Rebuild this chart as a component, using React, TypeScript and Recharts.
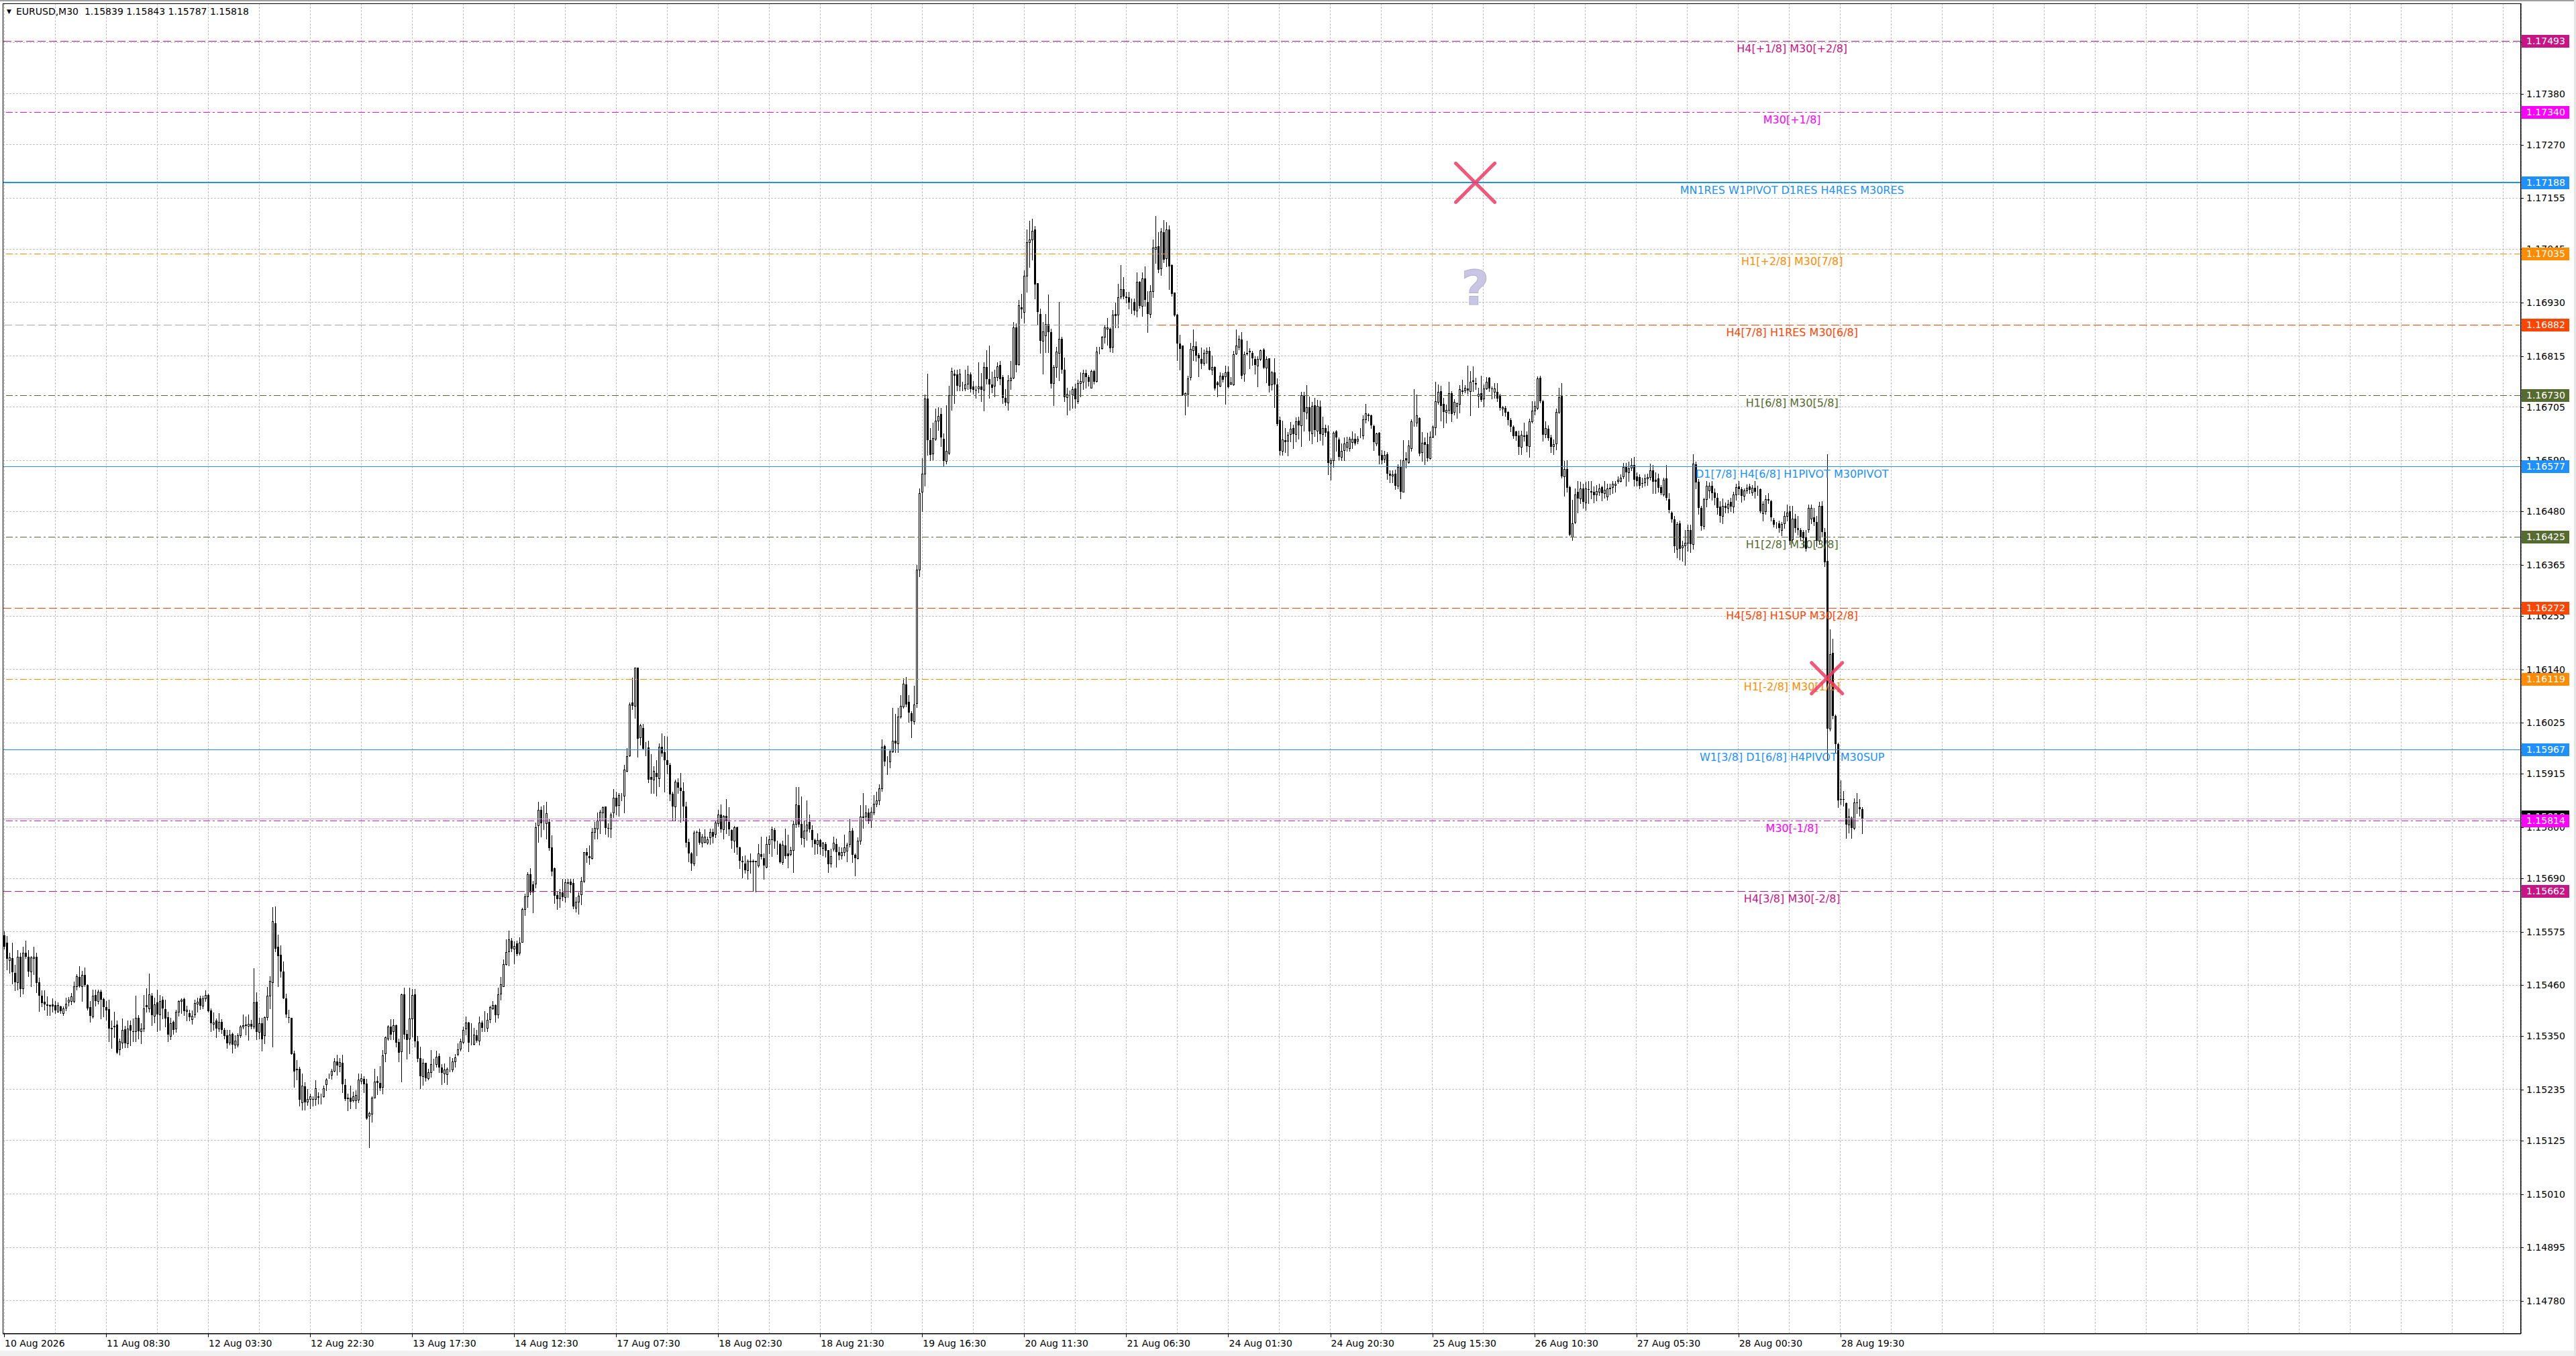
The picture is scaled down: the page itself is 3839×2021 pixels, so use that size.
import React from 'react';
import {
  ComposedChart,
  Bar,
  XAxis,
  YAxis,
  CartesianGrid,
  ReferenceLine,
  ReferenceDot,
} from 'recharts';

// candle values are in points above BASE (1 point = 0.00001), each row is [open, high, low, close]
const BASE = 1.14;

const aug10 = [
  [1567,1576,1539,1542],[1551,1566,1494,1516],[1513,1530,1486,1519],[1518,1551,1463,1487],[1486,1503,1448,1466],[1466,1536,1450,1521],[1521,1530,1435,1451],[1453,1542,1441,1530],
  [1530,1555,1518,1521],[1521,1535,1479,1489],[1489,1522,1458,1519],[1518,1543,1484,1521],[1521,1530,1445,1464],[1466,1476,1404,1437],[1437,1449,1414,1421],[1424,1449,1407,1419],
  [1419,1436,1395,1416],[1416,1419,1395,1417],[1418,1431,1402,1414],[1417,1425,1399,1406],[1403,1423,1402,1417],
];
const aug11 = [
  [1414,1416,1399,1404],[1399,1414,1395,1409],[1411,1433,1406,1420],[1424,1434,1415,1428],[1426,1443,1419,1436],[1426,1468,1422,1458],[1458,1484,1450,1479],[1477,1500,1456,1457],
  [1458,1491,1425,1482],[1482,1498,1457,1460],[1460,1462,1407,1410],[1413,1426,1381,1394],[1392,1450,1390,1437],[1438,1450,1415,1426],[1426,1450,1420,1446],[1446,1450,1388,1428],
  [1430,1433,1392,1413],[1413,1426,1385,1406],[1408,1429,1339,1367],[1367,1383,1325,1368],[1372,1402,1348,1369],[1375,1383,1313,1314],[1321,1344,1310,1339],[1336,1388,1324,1364],
  [1365,1372,1326,1334],[1334,1383,1326,1366],[1373,1384,1330,1362],[1361,1388,1339,1360],[1360,1437,1339,1389],[1389,1395,1344,1361],[1360,1378,1335,1366],[1367,1439,1360,1409],
  [1417,1453,1402,1413],[1409,1485,1403,1440],[1437,1443,1373,1395],[1394,1433,1380,1419],[1423,1450,1360,1397],[1396,1438,1363,1425],[1428,1436,1388,1409],[1408,1428,1371,1388],
  [1391,1403,1339,1353],[1350,1389,1343,1378],[1381,1383,1355,1364],[1366,1407,1359,1402],[1402,1427,1394,1425],[1425,1431,1400,1428],[1430,1433,1395,1404],[1404,1415,1383,1407],
];
const aug12 = [
  [1400,1407,1384,1391],[1386,1406,1376,1394],[1396,1428,1391,1421],[1420,1433,1402,1424],[1432,1437,1408,1415],[1415,1437,1409,1432],[1432,1448,1426,1438],[1438,1441,1402,1404],
  [1406,1410,1361,1378],[1377,1401,1363,1380],[1383,1388,1347,1366],[1366,1400,1361,1381],[1381,1387,1356,1364],[1364,1368,1344,1351],[1352,1364,1324,1334],[1336,1364,1332,1354],
  [1355,1357,1315,1331],[1332,1352,1324,1341],[1331,1356,1327,1352],[1352,1373,1347,1371],[1370,1396,1366,1373],[1374,1392,1354,1375],[1372,1397,1342,1377],[1377,1385,1367,1370],
  [1370,1496,1366,1423],[1424,1445,1343,1359],[1359,1390,1344,1378],[1378,1390,1319,1343],[1352,1392,1335,1391],[1391,1456,1385,1437],[1437,1479,1409,1469],[1466,1628,1327,1597],
  [1593,1630,1532,1538],[1542,1568,1457,1523],[1525,1545,1477,1489],[1489,1511,1431,1432],[1431,1441,1391,1397],[1391,1407,1379,1390],[1389,1390,1311,1312],[1313,1318,1241,1274],
  [1280,1298,1257,1277],[1279,1284,1200,1213],[1208,1270,1192,1243],[1242,1250,1192,1208],[1209,1236,1202,1214],[1214,1226,1195,1221],[1215,1221,1200,1214],[1214,1255,1202,1238],
];
const aug13 = [
  [1219,1229,1205,1221],[1220,1226,1205,1220],[1221,1243,1219,1238],[1246,1260,1233,1256],[1266,1270,1260,1266],[1266,1279,1258,1275],[1275,1303,1274,1295],[1295,1310,1267,1287],
  [1285,1303,1274,1294],[1292,1310,1229,1246],[1245,1258,1212,1214],[1216,1226,1190,1217],[1218,1243,1195,1209],[1211,1230,1209,1220],[1212,1234,1195,1223],[1213,1270,1207,1256],
  [1253,1270,1248,1259],[1258,1264,1229,1247],[1248,1258,1171,1173],[1178,1187,1111,1184],[1183,1220,1165,1217],[1217,1279,1217,1252],[1253,1264,1224,1249],[1249,1285,1233,1238],
  [1240,1320,1226,1308],[1313,1349,1295,1347],[1344,1374,1342,1370],[1371,1387,1343,1354],[1360,1387,1343,1374],[1373,1375,1328,1336],[1337,1344,1296,1315],[1317,1442,1252,1440],
  [1440,1455,1344,1354],[1355,1363,1302,1342],[1344,1455,1313,1388],[1388,1452,1349,1439],[1440,1452,1328,1339],[1339,1351,1296,1301],[1303,1328,1237,1264],[1264,1301,1245,1292],
  [1292,1293,1253,1259],[1259,1279,1257,1273],[1273,1320,1262,1290],[1290,1301,1277,1290],[1290,1319,1284,1306],[1307,1313,1272,1282],[1283,1290,1247,1271],[1269,1291,1250,1278],
];
const aug14 = [
  [1268,1282,1246,1279],[1279,1306,1274,1279],[1278,1303,1274,1295],[1296,1312,1284,1304],[1311,1335,1308,1322],[1323,1344,1318,1339],[1337,1371,1335,1364],[1367,1392,1354,1380],
  [1380,1381,1317,1336],[1335,1378,1332,1335],[1333,1368,1331,1354],[1352,1363,1337,1341],[1341,1392,1332,1380],[1380,1383,1361,1368],[1368,1404,1361,1368],[1368,1400,1361,1385],
  [1386,1416,1380,1413],[1410,1425,1408,1417],[1417,1419,1381,1395],[1396,1455,1390,1440],[1442,1477,1428,1461],[1458,1515,1457,1505],[1505,1559,1503,1531],[1533,1577,1502,1559],
  [1555,1561,1533,1538],[1538,1554,1506,1544],[1550,1556,1524,1527],[1529,1563,1525,1552],[1553,1626,1553,1624],[1624,1657,1611,1651],[1651,1703,1628,1698],[1698,1712,1655,1660],
  [1677,1684,1616,1660],[1678,1810,1670,1800],[1804,1855,1768,1837],[1837,1845,1780,1809],[1810,1847,1795,1810],[1808,1855,1775,1830],[1812,1818,1751,1755],[1756,1783,1696,1705],
  [1712,1713,1636,1652],[1654,1661,1624,1645],[1646,1667,1628,1660],[1659,1689,1643,1649],[1650,1689,1640,1681],[1681,1689,1650,1678],[1683,1689,1660,1675],[1680,1689,1625,1630],
];
const aug17 = [
  [1626,1650,1618,1640],[1640,1660,1613,1653],[1655,1693,1633,1684],[1684,1747,1682,1746],[1747,1755,1725,1739],[1738,1761,1720,1734],[1734,1799,1732,1790],[1790,1811,1775,1798],
  [1797,1832,1775,1814],[1814,1838,1787,1833],[1832,1845,1814,1843],[1844,1845,1785,1799],[1799,1809,1780,1798],[1797,1831,1778,1828],[1831,1882,1821,1864],[1864,1876,1828,1845],
  [1848,1874,1824,1869],[1868,1874,1857,1868],[1868,1934,1831,1924],[1921,1970,1920,1953],[1955,2068,1953,2065],[2068,2122,2054,2061],[2061,2144,2035,2144],[2144,2144,1951,1990],
  [1993,2023,1978,2020],[2014,2023,1968,1969],[1972,1984,1954,1972],[1972,1986,1897,1903],[1908,1957,1873,1903],[1903,1932,1874,1921],[1917,1944,1868,1908],[1906,1980,1888,1973],
  [1973,2002,1953,1959],[1962,1996,1876,1944],[1944,1995,1915,1934],[1934,1939,1857,1870],[1872,1877,1815,1844],[1845,1902,1814,1898],[1897,1905,1873,1885],[1885,1917,1811,1878],
  [1878,1897,1814,1845],[1844,1855,1758,1767],[1768,1775,1726,1743],[1743,1746,1707,1722],[1722,1792,1717,1788],[1789,1792,1739,1788],[1790,1797,1763,1767],[1767,1785,1758,1780],
];
const aug18 = [
  [1768,1796,1766,1780],[1767,1780,1763,1774],[1778,1797,1763,1790],[1790,1797,1766,1780],[1785,1814,1778,1810],[1809,1838,1803,1828],[1828,1849,1790,1796],[1796,1826,1775,1824],
  [1824,1860,1787,1813],[1811,1843,1783,1795],[1794,1796,1755,1771],[1771,1803,1746,1800],[1800,1802,1742,1756],[1757,1758,1712,1727],[1727,1737,1691,1725],[1722,1739,1702,1708],
  [1708,1730,1689,1728],[1728,1743,1701,1725],[1727,1730,1662,1725],[1728,1728,1661,1725],[1717,1763,1715,1743],[1742,1779,1732,1736],[1734,1744,1689,1717],[1715,1779,1713,1763],
  [1763,1782,1744,1774],[1774,1802,1737,1795],[1794,1799,1755,1770],[1763,1771,1742,1763],[1763,1766,1723,1725],[1725,1771,1721,1762],[1761,1797,1734,1737],[1744,1784,1713,1738],
  [1742,1758,1739,1750],[1750,1814,1703,1807],[1807,1886,1800,1849],[1848,1886,1802,1805],[1807,1867,1763,1776],[1776,1814,1758,1792],[1792,1857,1773,1805],[1811,1828,1790,1795],
  [1794,1804,1758,1773],[1772,1775,1742,1763],[1763,1787,1743,1772],[1773,1775,1742,1758],[1755,1768,1739,1766],[1763,1768,1736,1749],[1750,1751,1703,1721],[1722,1754,1715,1737],
];
const aug19 = [
  [1754,1780,1749,1766],[1763,1775,1715,1747],[1747,1758,1730,1739],[1739,1756,1732,1746],[1746,1784,1739,1757],[1749,1767,1726,1762],[1763,1818,1758,1791],[1792,1799,1725,1741],
  [1740,1744,1696,1734],[1734,1778,1732,1771],[1771,1847,1763,1823],[1821,1874,1799,1823],[1823,1848,1814,1832],[1831,1840,1809,1813],[1814,1843,1800,1833],[1832,1869,1827,1851],
  [1851,1877,1845,1858],[1857,1892,1849,1884],[1884,1989,1878,1973],[1974,1978,1933,1941],[1944,1953,1914,1944],[1942,1968,1929,1963],[1963,2057,1961,1986],[1986,2044,1961,1980],
  [1980,2057,1961,2038],[2038,2085,2035,2061],[2060,2120,2057,2109],[2108,2123,2060,2064],[2070,2084,2026,2047],[2046,2050,1994,2028],[2028,2105,2022,2064],[2067,2365,2058,2355],
  [2355,2530,2340,2520],[2522,2595,2480,2562],[2562,2732,2535,2723],[2723,2776,2602,2633],[2633,2659,2591,2602],[2605,2671,2592,2638],[2637,2701,2634,2675],[2675,2705,2656,2686],
  [2690,2703,2621,2640],[2637,2648,2579,2589],[2589,2709,2583,2610],[2606,2751,2604,2730],[2730,2789,2698,2782],[2776,2785,2713,2772],[2775,2785,2740,2750],[2750,2787,2741,2776],
];
const aug20 = [
  [2750,2759,2740,2750],[2745,2785,2740,2753],[2755,2794,2743,2775],[2775,2779,2737,2743],[2749,2761,2733,2742],[2742,2751,2724,2741],[2745,2801,2736,2749],[2749,2778,2718,2742],
  [2742,2801,2697,2791],[2791,2827,2755,2765],[2765,2837,2724,2753],[2753,2781,2736,2747],[2751,2785,2728,2769],[2769,2801,2762,2793],[2795,2804,2753,2765],[2770,2774,2713,2724],
  [2724,2743,2709,2714],[2714,2774,2698,2762],[2762,2804,2743,2768],[2768,2888,2766,2877],[2876,2885,2781,2795],[2797,2936,2795,2924],[2920,2949,2896,2915],[2909,2999,2886,2988],
  [2988,3087,2953,3060],[3060,3106,3007,3066],[3066,3110,3022,3085],[3087,3095,2938,2969],[2972,2972,2883,2909],[2906,2917,2822,2847],[2847,2888,2776,2868],[2859,2906,2823,2883],
  [2883,2947,2823,2867],[2867,2873,2747,2755],[2756,2795,2709,2791],[2791,2835,2770,2825],[2821,2932,2762,2852],[2852,2856,2778,2785],[2785,2812,2718,2726],[2726,2747,2688,2734],
  [2732,2740,2698,2732],[2732,2749,2703,2743],[2745,2755,2703,2722],[2718,2764,2713,2756],[2756,2779,2728,2761],[2760,2785,2743,2778],[2778,2785,2747,2770],[2770,2774,2751,2759],
];
const aug21 = [
  [2747,2785,2747,2782],[2782,2785,2755,2759],[2761,2835,2759,2824],[2824,2835,2820,2824],[2831,2858,2830,2856],[2856,2881,2843,2876],[2873,2896,2839,2877],[2873,2877,2824,2831],
  [2835,2914,2823,2904],[2906,2930,2877,2901],[2904,2970,2877,2942],[2943,3011,2938,2959],[2959,2985,2938,2943],[2943,2953,2930,2940],[2942,2953,2917,2930],[2931,2938,2907,2931],
  [2932,2938,2904,2913],[2913,2995,2900,2974],[2974,2976,2919,2923],[2923,2995,2901,2982],[2982,3008,2923,2936],[2932,2955,2866,2905],[2905,2967,2898,2955],[2955,3066,2942,3049],
  [3046,3117,3015,3050],[3051,3082,2995,3001],[3003,3090,2989,3083],[3082,3107,3017,3022],[3025,3104,3008,3087],[3087,3096,2959,3008],[3011,3012,2944,2949],[2951,2952,2901,2903],
  [2904,2906,2806,2842],[2842,2860,2786,2830],[2838,2838,2730,2731],[2730,2736,2688,2735],[2733,2773,2708,2766],[2770,2843,2764,2830],[2828,2872,2805,2836],[2836,2846,2804,2816],
  [2817,2822,2771,2810],[2808,2833,2788,2799],[2800,2829,2795,2822],[2822,2833,2800,2826],[2826,2834,2785,2786],[2786,2816,2775,2791],[2791,2793,2742,2745],[2758,2761,2728,2752],
];
const aug24 = [
  [2751,2780,2749,2773],[2772,2778,2759,2763],[2771,2794,2711,2779],[2781,2793,2747,2748],[2755,2769,2753,2758],[2753,2826,2752,2819],[2820,2872,2818,2837],[2835,2859,2829,2852],
  [2851,2866,2766,2773],[2776,2824,2761,2819],[2822,2848,2817,2819],[2826,2831,2788,2823],[2821,2826,2795,2810],[2809,2814,2776,2796],[2794,2815,2749,2809],[2809,2829,2805,2827],
  [2829,2832,2788,2789],[2789,2814,2758,2809],[2810,2810,2738,2750],[2753,2783,2742,2779],[2779,2810,2705,2754],[2754,2767,2665,2668],[2677,2684,2602,2610],[2610,2675,2602,2635],
  [2634,2660,2607,2629],[2632,2651,2600,2645],[2646,2673,2631,2658],[2659,2667,2616,2646],[2646,2683,2631,2674],[2675,2684,2636,2665],[2666,2738,2621,2731],[2730,2738,2654,2694],
  [2693,2752,2680,2705],[2705,2728,2634,2653],[2648,2716,2626,2708],[2709,2724,2643,2655],[2654,2721,2631,2707],[2706,2719,2634,2647],[2647,2684,2623,2659],[2660,2667,2643,2650],
  [2653,2666,2560,2584],[2584,2595,2549,2590],[2590,2653,2576,2650],[2652,2655,2610,2639],[2635,2639,2592,2597],[2597,2626,2590,2611],[2612,2639,2590,2627],[2619,2641,2611,2629],
];
const aug25 = [
  [2617,2641,2611,2636],[2629,2653,2617,2636],[2637,2648,2624,2627],[2632,2643,2627,2637],[2644,2660,2640,2644],[2644,2687,2637,2678],[2678,2711,2671,2692],[2689,2692,2675,2685],
  [2687,2689,2660,2665],[2664,2667,2612,2629],[2627,2650,2622,2648],[2650,2651,2583,2600],[2602,2612,2583,2590],[2593,2610,2586,2602],[2603,2607,2550,2561],[2561,2568,2542,2557],
  [2557,2568,2542,2560],[2561,2570,2528,2536],[2536,2582,2529,2576],[2576,2592,2508,2523],[2523,2634,2522,2590],[2594,2607,2575,2591],[2586,2634,2585,2622],[2617,2679,2611,2674],
  [2672,2744,2664,2673],[2671,2732,2664,2687],[2682,2683,2600,2605],[2607,2651,2589,2628],[2629,2639,2581,2623],[2625,2650,2589,2595],[2594,2653,2593,2641],[2641,2666,2640,2662],
  [2661,2759,2645,2717],[2716,2753,2712,2737],[2739,2751,2676,2708],[2711,2724,2661,2694],[2695,2710,2671,2698],[2699,2759,2691,2735],[2735,2739,2674,2690],[2695,2722,2688,2716],
  [2708,2715,2682,2713],[2712,2752,2693,2743],[2739,2763,2734,2740],[2741,2752,2736,2746],[2745,2794,2734,2740],[2739,2783,2687,2760],[2762,2792,2739,2759],[2757,2768,2744,2753],
];
const aug26 = [
  [2729,2746,2705,2733],[2735,2772,2717,2720],[2723,2753,2706,2745],[2745,2770,2743,2760],[2768,2770,2739,2745],[2745,2749,2723,2743],[2737,2756,2724,2745],[2738,2756,2718,2723],
  [2730,2734,2699,2703],[2702,2707,2687,2704],[2703,2707,2686,2693],[2695,2696,2667,2677],[2677,2681,2653,2663],[2663,2666,2638,2642],[2652,2654,2633,2642],[2644,2654,2604,2619],
  [2619,2654,2604,2645],[2644,2671,2632,2641],[2645,2653,2609,2620],[2620,2680,2598,2674],[2674,2718,2671,2697],[2697,2718,2688,2708],[2703,2771,2700,2767],[2768,2773,2715,2717],
  [2717,2720,2632,2645],[2646,2674,2640,2659],[2658,2666,2633,2638],[2639,2645,2608,2619],[2620,2635,2603,2625],[2627,2701,2613,2694],[2695,2747,2691,2726],[2729,2756,2553,2556],
  [2556,2589,2513,2572],[2572,2590,2522,2531],[2533,2536,2428,2430],[2425,2505,2418,2455],[2457,2529,2455,2516],[2522,2545,2478,2508],[2508,2544,2498,2529],[2529,2539,2488,2500],
  [2499,2544,2483,2529],[2528,2546,2498,2526],[2523,2546,2508,2524],[2523,2534,2499,2515],[2517,2537,2503,2524],[2523,2539,2515,2529],[2532,2536,2504,2520],[2520,2546,2510,2527],
];
const aug27 = [
  [2512,2539,2505,2529],[2529,2539,2517,2531],[2532,2545,2520,2539],[2537,2546,2522,2539],[2545,2556,2541,2548],[2546,2560,2544,2553],[2556,2584,2551,2576],[2576,2585,2536,2565],
  [2565,2588,2546,2573],[2575,2594,2568,2580],[2580,2597,2536,2548],[2556,2565,2536,2545],[2554,2560,2530,2536],[2541,2553,2533,2540],[2542,2560,2536,2552],[2551,2562,2537,2554],
  [2554,2583,2548,2569],[2569,2580,2519,2544],[2548,2565,2520,2544],[2551,2562,2523,2531],[2532,2537,2516,2519],[2516,2553,2513,2549],[2552,2580,2505,2509],[2507,2520,2478,2484],
  [2478,2481,2458,2463],[2463,2470,2393,2405],[2400,2457,2381,2453],[2454,2460,2377,2400],[2402,2417,2373,2407],[2407,2440,2365,2412],[2412,2452,2395,2440],[2440,2452,2393,2410],
  [2410,2603,2400,2583],[2581,2588,2530,2542],[2544,2550,2475,2487],[2488,2492,2440,2449],[2449,2510,2443,2507],[2507,2545,2490,2536],[2525,2543,2510,2536],[2536,2545,2505,2519],
  [2521,2530,2495,2509],[2510,2520,2475,2487],[2490,2502,2458,2470],[2470,2508,2455,2492],[2492,2499,2478,2487],[2487,2505,2478,2496],[2500,2510,2480,2490],[2490,2522,2478,2516],
];
const aug28 = [
  [2516,2540,2505,2532],[2534,2545,2516,2528],[2528,2533,2500,2513],[2513,2530,2505,2525],[2525,2538,2520,2531],[2534,2540,2520,2527],[2521,2537,2515,2531],[2531,2545,2510,2522],
  [2527,2536,2515,2527],[2528,2530,2478,2480],[2476,2502,2460,2496],[2481,2515,2475,2506],[2507,2520,2498,2504],[2502,2505,2460,2467],[2461,2466,2447,2452],[2452,2458,2445,2452],
  [2455,2460,2435,2444],[2440,2458,2428,2453],[2455,2480,2445,2471],[2471,2495,2460,2478],[2480,2492,2410,2417],[2420,2492,2412,2464],[2464,2475,2435,2445],[2441,2470,2430,2445],
  [2440,2445,2418,2426],[2435,2440,2405,2423],[2424,2440,2395,2400],[2442,2495,2435,2487],[2464,2495,2455,2488],[2467,2488,2450,2458],[2458,2470,2405,2417],[2417,2500,2410,2492],
  [2492,2502,2425,2436],[2436,2445,2362,2370],[2374,2603,1944,2012],[2012,2226,2008,2173],[2176,2206,2034,2039],[2039,2043,1962,1979],[1979,1982,1843,1857],[1861,1901,1849,1860],
  [1861,1878,1846,1859],[1852,1854,1776,1805],[1805,1840,1788,1823],[1820,1823,1776,1799],[1799,1862,1796,1854],[1854,1874,1830,1852],[1843,1861,1824,1839],[1839,1843,1787,1818],
];

const sessions = [aug10, aug11, aug12, aug13, aug14, aug17, aug18, aug19, aug20, aug21, aug24, aug25, aug26, aug27, aug28];

// one label every 38 bars, starting at the first bar
const timeLabels = [
  '10 Aug 2026', '11 Aug 08:30', '12 Aug 03:30', '12 Aug 22:30', '13 Aug 17:30', '14 Aug 12:30',
  '17 Aug 07:30', '18 Aug 02:30', '18 Aug 21:30', '19 Aug 16:30', '20 Aug 11:30', '21 Aug 06:30',
  '24 Aug 01:30', '24 Aug 20:30', '25 Aug 15:30', '26 Aug 10:30', '27 Aug 05:30', '28 Aug 00:30', '28 Aug 19:30',
];

const priceTicks = [
  1.1749, 1.1738, 1.1727, 1.17155, 1.17045, 1.1693, 1.16815, 1.16705, 1.1659, 1.1648, 1.16365, 1.16255,
  1.1614, 1.16025, 1.15915, 1.158, 1.1569, 1.15575, 1.1546, 1.1535, 1.15235, 1.15125, 1.1501, 1.14895, 1.1478,
];

const levelPrices = [1.17493, 1.1734, 1.17188, 1.17035, 1.16882, 1.1673, 1.16577, 1.16425, 1.16272, 1.16119, 1.15967, 1.15814, 1.15662];
const levelNames = [
  'H4[+1/8] M30[+2/8]',
  'M30[+1/8]',
  'MN1RES W1PIVOT D1RES H4RES M30RES',
  'H1[+2/8] M30[7/8]',
  'H4[7/8] H1RES M30[6/8]',
  'H1[6/8] M30[5/8]',
  'D1[7/8] H4[6/8] H1PIVOT M30PIVOT',
  'H1[2/8] M30[3/8]',
  'H4[5/8] H1SUP M30[2/8]',
  'H1[-2/8] M30[1/8]',
  'W1[3/8] D1[6/8] H4PIVOT M30SUP',
  'M30[-1/8]',
  'H4[3/8] M30[-2/8]',
];
const levelKinds = ['dash', 'dashdot', 'solid', 'dashdot', 'dash', 'dashdot', 'solid', 'dashdot', 'dash', 'dashdot', 'solid', 'dashdot', 'dash'];
// bar index where the coloured part of a level line starts (grey before it)
const levelStart = [0, 0, 0, 0, 430, 0, 0, 0, 0, 0, 0, 0, 0];

const bidPrice = 1.15818;
const quote = 'EURUSD,M30  1.15839 1.15843 1.15787 1.15818';

const crossBars = [548, 679];
const crossPrices = [1.17188, 1.16121];
const questionBar = 548;
const questionPrice = 1.16963;
const levelTextBar = 666;

// ---------- layout / style ----------
const WIDTH = 3839;
const HEIGHT = 2021;
const AXIS_RIGHT = 82;
const AXIS_BOTTOM = 33;
const SLOTS = 938;
const Y_MIN = 1.147088;
const Y_MAX = 1.175744;
const FONT = '"DejaVu Sans", Verdana, sans-serif';
const LEVEL_COLORS = ['#C71585', '#FF00FF', '#1E90FF', '#FF8C00', '#FF4500', '#556B2F', '#1E90FF', '#556B2F', '#FF4500', '#FF8C00', '#1E90FF', '#FF00FF', '#C71585'];
const DASHES: Record<string, string | undefined> = { dash: '12 5', dashdot: '10 4 3 4', solid: undefined };
const CROSS_SIZES = [29, 23];

const bars = sessions.flat();
const data = Array.from({ length: SLOTS }, (_, i) => {
  const b = bars[i];
  if (!b) return { i };
  const [o, h, l, c] = b.map((v) => +(BASE + v / 1e5).toFixed(5));
  return { i, o, c, h: Math.max(h, o, c), l: Math.min(l, o, c) };
});

const gridTicks = Array.from({ length: Math.floor((SLOTS - 1) / 19) + 1 }, (_, k) => k * 19);
// price ticks first, then the price badges, so badges are painted over the tick texts
const axisValues = [...priceTicks, bidPrice, ...levelPrices];

function Candle(props: any) {
  const { x, y, width, height, payload } = props;
  if (!payload || payload.o === undefined) return <g />;
  const { o, h, l, c } = payload;
  const top = Math.min(y, y + height);
  const span = Math.abs(height);
  const k = h > l ? span / (h - l) : 0;
  const py = (v: number) => Math.round(top + (h - v) * k);
  const cx = Math.round(x + width / 2);
  const yH = Math.round(top);
  const yL = Math.round(top + span);
  const yO = py(o);
  const yC = py(c);
  const bTop = Math.min(yO, yC);
  const bBot = Math.max(yO, yC);
  return (
    <g shapeRendering="crispEdges">
      <line x1={cx + 0.5} x2={cx + 0.5} y1={yH} y2={yL + 1} stroke="#000" strokeWidth={1} />
      {c >= o ? (
        <rect x={cx - 0.5} y={bTop + 0.5} width={2} height={Math.max(bBot - bTop, 0)} fill="#fff" stroke="#000" strokeWidth={1} />
      ) : (
        <rect x={cx - 1} y={bTop} width={3} height={Math.max(bBot - bTop, 1)} fill="#000" />
      )}
    </g>
  );
}

function AxisTick(props: any) {
  const { x, y, payload } = props;
  const v = Number(payload.value);
  const li = levelPrices.indexOf(v);
  if (li >= 0 || v === bidPrice) {
    const color = li >= 0 ? LEVEL_COLORS[li] : '#000';
    const yy = Math.round(y) + (li >= 0 ? 0 : -3);
    return (
      <g>
        <rect x={x - 7} y={yy - 9} width={71} height={19} fill={color} />
        <text x={x} y={yy + 5} fontSize={14} fontFamily={FONT} fill="#fff">
          {v.toFixed(5)}
        </text>
      </g>
    );
  }
  const yy = Math.round(y) + 0.5;
  return (
    <g>
      <line x1={x - 8} x2={x - 4} y1={yy} y2={yy} stroke="#000" />
      <text x={x} y={y} dy={5} fontSize={14} fontFamily={FONT} fill="#000">
        {v.toFixed(5)}
      </text>
    </g>
  );
}

function TimeTick(props: any) {
  const { x, y, payload } = props;
  const k = payload.value / 38;
  if (!Number.isInteger(k) || !timeLabels[k]) return <g />;
  const xx = Math.round(x) + 0.5;
  return (
    <g>
      <line x1={xx} x2={xx} y1={y} y2={y + 5} stroke="#000" />
      <text x={x + 1} y={y + 19} fontSize={14} fontFamily={FONT} fill="#000">
        {timeLabels[k]}
      </text>
    </g>
  );
}

function levelText(name: string, color: string) {
  return (props: any) => (
    <text x={props.cx} y={props.cy + 17} textAnchor="middle" fontSize={16} fontFamily={FONT} fill={color}>
      {name}
    </text>
  );
}

function cross(size: number) {
  return (props: any) => {
    const { cx, cy } = props;
    return (
      <g stroke="#EE3A62" strokeWidth={5} strokeLinecap="round" opacity={0.85}>
        <line x1={cx - size} y1={cy - size} x2={cx + size} y2={cy + size} />
        <line x1={cx - size} y1={cy + size} x2={cx + size} y2={cy - size} />
      </g>
    );
  };
}

function question(props: any) {
  return (
    <text x={props.cx} y={props.cy} dy={26} textAnchor="middle" fontSize={72} fontWeight="bold" fontFamily={FONT} fill="#C9C6E4" stroke="#B4B0D6" strokeWidth={1}>
      ?
    </text>
  );
}

const css = `.recharts-cartesian-grid line, .recharts-reference-line line { shape-rendering: crispEdges; }`;

export default function App() {
  return (
    <div style={{ position: 'absolute', left: 0, top: 0, width: WIDTH, height: HEIGHT, background: '#fff', overflow: 'hidden', fontFamily: FONT }}>
      <style>{css}</style>
      <ComposedChart width={WIDTH} height={HEIGHT} data={data} margin={{ top: 5, right: 0, bottom: 0, left: 4 }} barCategoryGap={0}>
        <CartesianGrid stroke="#C0C0C0" strokeDasharray="3 2" horizontalValues={priceTicks} />
        <XAxis
          dataKey="i"
          type="category"
          ticks={gridTicks}
          interval={0}
          height={AXIS_BOTTOM}
          tickLine={false}
          tickSize={0}
          tickMargin={0}
          axisLine={{ stroke: '#000' }}
          tick={TimeTick}
        />
        <YAxis
          orientation="right"
          type="number"
          domain={[Y_MIN, Y_MAX]}
          allowDataOverflow
          ticks={axisValues}
          interval={0}
          width={AXIS_RIGHT}
          tickLine={false}
          tickSize={0}
          tickMargin={8}
          axisLine={{ stroke: '#000' }}
          tick={AxisTick}
        />
        <ReferenceLine y={bidPrice} stroke="#B4B4B4" />
        {levelPrices.map((p, idx) => {
          const color = LEVEL_COLORS[idx];
          const dash = DASHES[levelKinds[idx]];
          const width = idx === 2 ? 2 : 1;
          if (levelStart[idx] > 0) {
            return (
              <React.Fragment key={`lv${idx}`}>
                <ReferenceLine segment={[{ x: 0, y: p }, { x: levelStart[idx], y: p }]} stroke="#A8A8A8" strokeDasharray={dash} />
                <ReferenceLine segment={[{ x: levelStart[idx], y: p }, { x: SLOTS - 1, y: p }]} stroke={color} strokeDasharray={dash} />
              </React.Fragment>
            );
          }
          return <ReferenceLine key={`lv${idx}`} y={p} stroke={color} strokeWidth={width} strokeDasharray={dash} />;
        })}
        {levelPrices.map((p, idx) => (
          <ReferenceDot key={`lt${idx}`} x={levelTextBar} y={p} r={0} shape={levelText(levelNames[idx], LEVEL_COLORS[idx])} />
        ))}
        <Bar
          dataKey={(d: any) => (d.o === undefined ? null : [d.l, d.h])}
          shape={Candle}
          isAnimationActive={false}
        />
        <ReferenceDot x={questionBar} y={questionPrice} r={0} shape={question} />
        {crossBars.map((b, idx) => (
          <ReferenceDot key={`x${idx}`} x={b} y={crossPrices[idx]} r={0} shape={cross(CROSS_SIZES[idx])} />
        ))}
      </ComposedChart>
      <div style={{ position: 'absolute', left: 4, top: 5, width: WIDTH - AXIS_RIGHT - 4, height: HEIGHT - AXIS_BOTTOM - 5, border: '1px solid #000', boxSizing: 'border-box', pointerEvents: 'none' }} />
      <div style={{ position: 'absolute', left: 0, top: 0, width: WIDTH, height: 2, background: '#A0A0A0' }} />
      <div style={{ position: 'absolute', left: 0, top: HEIGHT - 8, width: WIDTH, height: 8, background: '#F0F0F0' }} />
      <div style={{ position: 'absolute', left: WIDTH - 3, top: 0, width: 3, height: HEIGHT, background: '#E6E6E6' }} />
      <div style={{ position: 'absolute', left: 10, top: 9, fontSize: 14, lineHeight: '16px', fontFamily: FONT, color: '#000', whiteSpace: 'pre' }}>
        <span style={{ fontSize: 9, marginRight: 7, position: 'relative', top: -2 }}>▼</span>
        {quote}
      </div>
    </div>
  );
}
